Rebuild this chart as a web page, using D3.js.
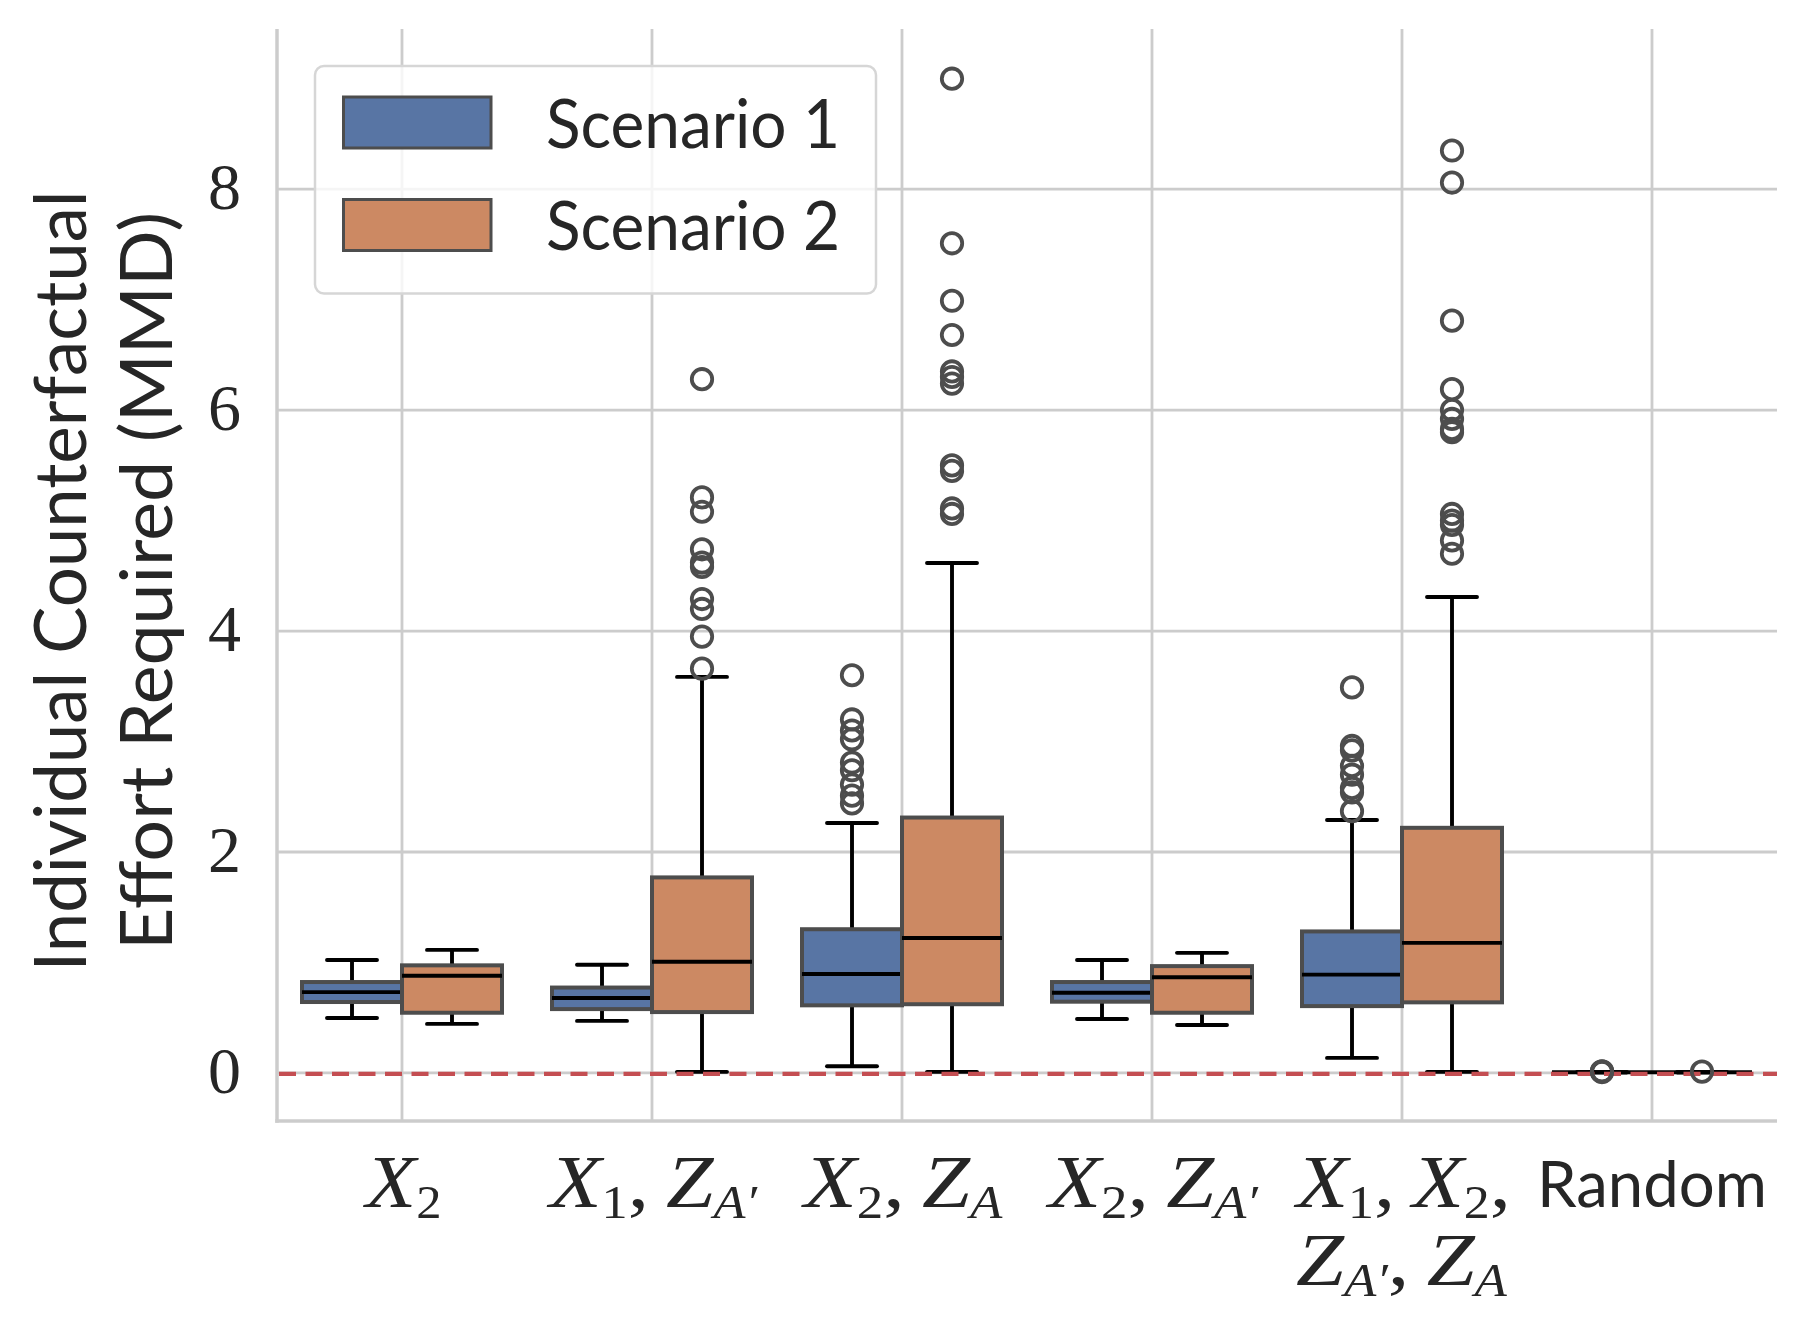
<!DOCTYPE html>
<html><head><meta charset="utf-8">
<script src="https://cdn.jsdelivr.net/npm/d3@7"></script>
<style>body{margin:0;background:#fff;} svg{display:block;}</style>
</head><body><svg id="chart" width="1807" height="1327"></svg>
<script>
// ---------------- DATA ----------------
const categories = ["X2", "X1,ZA'", "X2,ZA", "X2,ZA'", "X1,X2,ZA',ZA", "Random"];
const seriesNames = ["Scenario 1", "Scenario 2"];
// [whisker low, q1, median, q3, whisker high]
const scenario1Stats = [
  [0.498, 0.642, 0.732, 0.823, 1.023],
  [0.471, 0.578, 0.679, 0.773, 0.980],
  [0.060, 0.612, 0.896, 1.301, 2.262],
  [0.488, 0.645, 0.726, 0.823, 1.023],
  [0.136, 0.605, 0.890, 1.281, 2.290],
  [0.006, 0.006, 0.006, 0.006, 0.006]
];
const scenario1Outliers = [
  [],
  [],
  [3.60, 3.20, 3.10, 3.02, 2.81, 2.74, 2.61, 2.51, 2.44],
  [],
  [3.49, 2.96, 2.92, 2.78, 2.70, 2.58, 2.54, 2.37],
  [0.012, 0.008, 0.015]
];
const scenario2Stats = [
  [0.444, 0.545, 0.880, 0.974, 1.114],
  [0.010, 0.551, 1.006, 1.770, 3.585],
  [0.010, 0.622, 1.221, 2.312, 4.616],
  [0.434, 0.545, 0.866, 0.967, 1.087],
  [0.010, 0.639, 1.177, 2.219, 4.308],
  [0.006, 0.006, 0.006, 0.006, 0.006]
];
const scenario2Outliers = [
  [],
  [6.28, 5.21, 5.08, 4.74, 4.62, 4.58, 4.29, 4.20, 3.95, 3.66],
  [9.00, 7.51, 6.99, 6.68, 6.35, 6.30, 6.24, 5.50, 5.45, 5.11, 5.06],
  [],
  [8.35, 8.06, 6.81, 6.19, 6.00, 5.92, 5.83, 5.80, 5.06, 5.00, 4.96, 4.82, 4.70],
  [0.012]
];
const yTicks = [0, 2, 4, 6, 8];
const yTickLabels = ["0", "2", "4", "6", "8"];
const referenceLineValue = 0;
// tick labels as rich-text lines: [text, kind]  i=italic, r=roman, si/sr=subscript
const xTickLabels = [
  [[["X","i"],["2","sr"]]],
  [[["X","i"],["1","sr"],[",","r"],["\u2009","r"],["Z","i"],["A\u2032","si"]]],
  [[["X","i"],["2","sr"],[",","r"],["\u2009","r"],["Z","i"],["A","si"]]],
  [[["X","i"],["2","sr"],[",","r"],["\u2009","r"],["Z","i"],["A\u2032","si"]]],
  [[["X","i"],["1","sr"],[",","r"],["\u2009","r"],["X","i"],["2","sr"],[",","r"]],
   [["Z","i"],["A\u2032","si"],[",","r"],["\u2009","r"],["Z","i"],["A","si"]]],
  [[["Random","sans"]]]
];
const yLabelLines = ["Individual Counterfactual", "Effort Required (MMD)"];

// ---------------- LAYOUT / STYLE ----------------
const plot = {left: 277, right: 1777, top: 29, bottom: 1121};
const colors = ["#5875a4", "#cc8963"];
const edgeGray = "#4d4d4d";
const gridColor = "#cccccc";
const textColor = "#262626";
const serif = "'Liberation Serif', 'DejaVu Serif', serif";
const sans = "Lato, 'Open Sans', sans-serif";
const labelWidths = [[79], [212], [203], [214], [218, 212], [230]];

const svg = d3.select("#chart");

const y = d3.scaleLinear().domain([-0.435, 9.45]).range([plot.bottom, plot.top]);
const x = d3.scaleBand().domain(categories).range([plot.left, plot.right]).paddingInner(0).paddingOuter(0);
const xSub = d3.scaleBand().domain(seriesNames).range([0.1 * x.bandwidth(), 0.9 * x.bandwidth()]);

// gridlines
const grid = svg.append("g");
grid.selectAll("line.h").data(yTicks).join("line")
  .attr("x1", plot.left).attr("x2", plot.right)
  .attr("y1", d => y(d)).attr("y2", d => y(d))
  .attr("stroke", gridColor).attr("stroke-width", 2.8);
grid.selectAll("line.v").data(categories).join("line")
  .attr("x1", d => x(d) + x.bandwidth()/2).attr("x2", d => x(d) + x.bandwidth()/2)
  .attr("y1", plot.top).attr("y2", plot.bottom)
  .attr("stroke", gridColor).attr("stroke-width", 2.8);

// spines
svg.append("line").attr("x1", plot.left).attr("x2", plot.left).attr("y1", plot.top).attr("y2", plot.bottom + 1.75)
  .attr("stroke", gridColor).attr("stroke-width", 3.5);
svg.append("line").attr("x1", plot.left - 1.75).attr("x2", plot.right).attr("y1", plot.bottom).attr("y2", plot.bottom)
  .attr("stroke", gridColor).attr("stroke-width", 3.5);

// boxes
const allStats = [scenario1Stats, scenario2Stats];
const allOutliers = [scenario1Outliers, scenario2Outliers];
const boxData = [];
seriesNames.forEach((s, si) => {
  categories.forEach((c, ci) => {
    const st = allStats[si][ci];
    boxData.push({series: s, si, cat: c, lo: st[0], q1: st[1], med: st[2], q3: st[3], hi: st[4], out: allOutliers[si][ci]});
  });
});

const boxes = svg.append("g");
const bw = xSub.bandwidth();
const lw = 3.9;
boxData.forEach(d => {
  const x0 = x(d.cat) + xSub(d.series);
  const cx = x0 + bw/2;
  const g = boxes.append("g");
  g.append("line").attr("x1", cx).attr("x2", cx).attr("y1", y(d.q3)).attr("y2", y(d.hi))
    .attr("stroke", "#000").attr("stroke-width", lw);
  g.append("line").attr("x1", cx).attr("x2", cx).attr("y1", y(d.q1)).attr("y2", y(d.lo))
    .attr("stroke", "#000").attr("stroke-width", lw);
  [d.hi, d.lo].forEach(v => {
    g.append("line").attr("x1", cx - bw/4).attr("x2", cx + bw/4).attr("y1", y(v)).attr("y2", y(v))
      .attr("stroke", "#000").attr("stroke-width", lw).attr("stroke-linecap", "round");
  });
  g.append("rect").attr("x", x0).attr("width", bw)
    .attr("y", y(d.q3)).attr("height", Math.max(0, y(d.q1) - y(d.q3)))
    .attr("fill", colors[d.si]).attr("stroke", edgeGray).attr("stroke-width", 4);
  g.append("line").attr("x1", x0).attr("x2", x0 + bw).attr("y1", y(d.med)).attr("y2", y(d.med))
    .attr("stroke", "#000").attr("stroke-width", lw);
});

// reference line at 0
svg.append("line").attr("x1", plot.left + 2).attr("x2", plot.right)
  .attr("y1", y(referenceLineValue) + 1).attr("y2", y(referenceLineValue) + 1)
  .attr("stroke", "#c44e52").attr("stroke-width", 4.3).attr("stroke-dasharray", "17,9.5");

// outliers
const fl = svg.append("g");
boxData.forEach(d => {
  const cx = x(d.cat) + xSub(d.series) + bw/2;
  fl.selectAll(null).data(d.out).join("circle")
    .attr("cx", cx).attr("cy", v => y(v)).attr("r", 10.2)
    .attr("fill", "none").attr("stroke", edgeGray).attr("stroke-width", 3.8);
});

// y tick labels
svg.append("g").selectAll("text").data(yTicks).join("text")
  .attr("x", 241).attr("y", d => y(d) + 20)
  .attr("text-anchor", "end").attr("font-family", serif).attr("font-size", 66)
  .attr("fill", textColor).text((d, i) => yTickLabels[i]);

// x tick labels (rich text)
function richText(parent, segs) {
  const t = parent.append("text").attr("fill", textColor).attr("x", 0).attr("y", 0);
  let cur = 0;
  segs.forEach(([txt, kind]) => {
    const sub = kind === "si" || kind === "sr";
    const target = sub ? 11 : 0;
    t.append("tspan").text(txt)
      .attr("dy", target - cur)
      .attr("font-family", kind === "sans" ? sans : serif)
      .attr("font-size", kind === "sans" ? 64 : (sub ? 46 : 75))
      .attr("font-style", (kind === "i" || kind === "si") ? "italic" : "normal");
    cur = target;
  });
  return t;
}
const lineBaselines = [1207, 1285];
xTickLabels.forEach((lines, ci) => {
  const cx = x(categories[ci]) + x.bandwidth()/2;
  lines.forEach((segs, li) => {
    const g = svg.append("g");
    const t = richText(g, segs);
    const bb = t.node().getBBox();
    const target = labelWidths[ci][li];
    const s = target / bb.width;
    g.attr("transform", `translate(${cx - target/2 - bb.x * s},${lineBaselines[li]}) scale(${s},1)`);
  });
});

// y axis label
const yLabelX = [86, 172];
const yLabelLen = [781, 738];
yLabelLines.forEach((txt, i) => {
  svg.append("text")
    .attr("transform", `translate(${yLabelX[i]},581) rotate(-90)`)
    .attr("text-anchor", "middle")
    .attr("font-family", sans).attr("font-size", 72).attr("fill", textColor)
    .attr("textLength", yLabelLen[i]).attr("lengthAdjust", "spacingAndGlyphs")
    .text(txt);
});

// legend
const lg = svg.append("g");
lg.append("rect").attr("x", 315).attr("y", 66).attr("width", 561).attr("height", 227.5)
  .attr("rx", 9).attr("fill", "rgba(255,255,255,0.8)").attr("stroke", "#d6d6d6").attr("stroke-width", 2.5);
seriesNames.forEach((s, i) => {
  const yy = 95.5 + i * 102.5;
  lg.append("rect").attr("x", 343.5).attr("y", yy + 1.5).attr("width", 147.5).attr("height", 51)
    .attr("fill", colors[i]).attr("stroke", edgeGray).attr("stroke-width", 3);
  lg.append("text").attr("x", 546).attr("y", yy + 52)
    .attr("font-family", sans).attr("font-size", 68).attr("fill", textColor)
    .attr("textLength", 294).attr("lengthAdjust", "spacingAndGlyphs")
    .text(s);
});
</script>
</body></html>
